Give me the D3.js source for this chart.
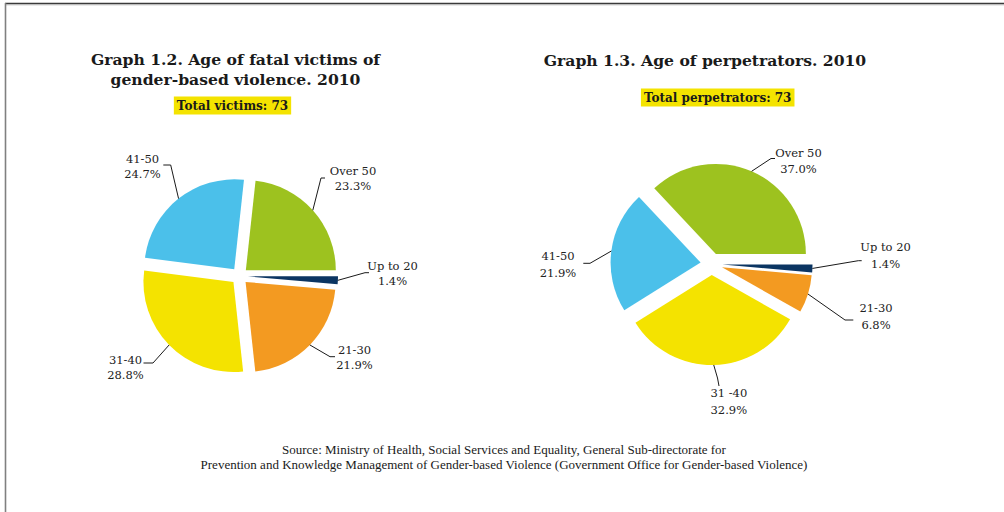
<!DOCTYPE html>
<html><head><meta charset="utf-8">
<script src="https://cdn.jsdelivr.net/npm/d3@7"></script>
<style>
html,body{margin:0;padding:0;background:#fff;}
svg{display:block;}
</style></head><body>
<svg id="chart" width="1004" height="512"></svg>
<script>
// Age groups, in clockwise drawing order
const ageGroups = ["Over 50", "Up to 20", "21-30", "31-40", "41-50"];
// Shares (%) per age group
const victimsShare = [23.3, 1.4, 21.9, 28.8, 24.7];
const perpetratorsShare = [37.0, 1.4, 6.8, 32.9, 21.9];
// Category names as printed beside each pie
const victimsNames = ["Over 50", "Up to 20", "21-30", "31-40", "41-50"];
const perpetratorsNames = ["Over 50", "Up to 20", "21-30", "31 -40", "41-50"];
// Headings
const victimsTitle = ["Graph 1.2. Age of fatal victims of", "gender-based violence. 2010"];
const perpetratorsTitle = ["Graph 1.3. Age of perpetrators. 2010"];
const victimsTotal = "Total victims: 73";
const perpetratorsTotal = "Total perpetrators: 73";
const sourceLines = [
  "Source: Ministry of Health, Social Services and Equality, General Sub-directorate for",
  "Prevention and Knowledge Management of Gender-based Violence (Government Office for Gender-based Violence)"
];

const color = d3.scaleOrdinal()
  .domain(ageGroups)
  .range(["#9dc21f", "#0b3562", "#f39a21", "#f4e300", "#4bc0ea"]);

const svg = d3.select("#chart");

// frame
svg.append("line").attr("x1", 5).attr("x2", 1004).attr("y1", 3.5).attr("y2", 3.5)
  .attr("stroke", "#3a3a3a").attr("stroke-width", 1.5);
svg.append("line").attr("x1", 5).attr("x2", 1004).attr("y1", 4.8).attr("y2", 4.8)
  .attr("stroke", "#b5b5b5").attr("stroke-width", 1);
svg.append("line").attr("x1", 5.5).attr("x2", 5.5).attr("y1", 3).attr("y2", 512)
  .attr("stroke", "#808080").attr("stroke-width", 1.6);

const serif = "'DejaVu Serif', serif";

// Leader layout (offsets from pie centre): elbow point, end point, label block centre
const victimsLayout = [
  {elbow: [81.5, -98], end: [85.5, -98], label: [113.5, -98]},
  {elbow: [125.5, -3.3], end: [129.5, -3.3], label: [153, -3]},
  {elbow: [90.5, 80.7], end: [95.5, 80.7], label: [115, 81]},
  {elbow: [-86.5, 87], end: [-96, 87], label: [-114, 91]},
  {elbow: [-68.8, -111], end: [-76.2, -111], label: [-97, -109.5]}
];
const perpetratorsLayout = [
  {elbow: [59.5, -105.5], end: [63.5, -105.5], label: [87, -103]},
  {elbow: [146.8, -3.3], end: [150.2, -3.3], label: [174, -8.5]},
  {elbow: [133.5, 56], end: [141.8, 56], label: [164.5, 52.3]},
  {elbow: [6, 114], end: [7.5, 122], label: [17.3, 137.3]},
  {elbow: [-121.5, -0.7], end: [-128.2, -0.7], label: [-153.5, 0.7]}
];

function drawPanel(cfg) {
  const g = svg.append("g");

  // heading
  cfg.title.forEach((t, i) => {
    g.append("text")
      .attr("x", cfg.titleX).attr("y", cfg.titleY + i * 20)
      .attr("text-anchor", "middle").attr("dominant-baseline", "central")
      .attr("font-family", serif).attr("font-weight", "bold").attr("font-size", 15.6)
      .attr("fill", "#1a1a1a").text(t);
  });

  // highlighted total
  const tot = g.append("text")
    .attr("x", cfg.totalX).attr("y", cfg.totalY)
    .attr("text-anchor", "middle").attr("dominant-baseline", "central")
    .attr("font-family", serif).attr("font-weight", "bold").attr("font-size", 12)
    .attr("fill", "#1a1a1a").text(cfg.total);
  const bb = tot.node().getBBox();
  g.insert("rect", "text")
    .attr("x", bb.x - 3).attr("y", cfg.totalY - 9)
    .attr("width", bb.width + 6).attr("height", 18)
    .attr("fill", "#f4e300");

  const sum = d3.sum(cfg.values);
  const a0 = Math.PI / 2 - cfg.values[0] / sum * 2 * Math.PI;
  const pie = d3.pie().sort(null).startAngle(a0).endAngle(a0 + 2 * Math.PI);
  const arcs = pie(cfg.values)
    .map((d, i) => Object.assign(d, {key: ageGroups[i], name: cfg.names[i], layout: cfg.layout[i]}));

  const arc = d3.arc().innerRadius(0).outerRadius(cfg.r);
  const rim = d3.arc().innerRadius(cfg.r).outerRadius(cfg.r);
  const shift = d => {
    const m = (d.startAngle + d.endAngle) / 2;
    return [Math.sin(m) * cfg.explode, -Math.cos(m) * cfg.explode];
  };

  const pg = g.append("g").attr("transform", `translate(${cfg.cx},${cfg.cy})`);

  pg.selectAll("path.slice").data(arcs).join("path")
    .attr("class", "slice")
    .attr("transform", d => `translate(${shift(d)})`)
    .attr("d", arc)
    .attr("fill", d => color(d.key));

  const line = d3.line();
  pg.selectAll("path.leader").data(arcs).join("path")
    .attr("class", "leader")
    .attr("d", d => {
      const s = shift(d);
      const c = rim.centroid(d);
      return line([[c[0] + s[0], c[1] + s[1]], d.layout.elbow, d.layout.end]);
    })
    .attr("fill", "none").attr("stroke", "#1a1a1a").attr("stroke-width", 1);

  const lbl = pg.selectAll("text.lbl").data(arcs).join("text")
    .attr("class", "lbl")
    .attr("text-anchor", "middle")
    .attr("font-family", serif).attr("font-size", 11.5).attr("fill", "#222");
  lbl.append("tspan")
    .attr("x", d => d.layout.label[0])
    .attr("y", d => d.layout.label[1] - cfg.lineGap / 2)
    .attr("dominant-baseline", "central")
    .text(d => d.name);
  lbl.append("tspan")
    .attr("x", d => d.layout.label[0])
    .attr("y", d => d.layout.label[1] + cfg.lineGap / 2)
    .attr("dominant-baseline", "central")
    .text(d => d3.format(".1f")(d.value) + "%");
}

drawPanel({
  title: victimsTitle, titleX: 235.5, titleY: 59,
  total: victimsTotal, totalX: 232.5, totalY: 105.5,
  values: victimsShare, names: victimsNames, layout: victimsLayout,
  cx: 239.5, cy: 276, r: 90, explode: 8.5, lineGap: 15
});

drawPanel({
  title: perpetratorsTitle, titleX: 705, titleY: 60,
  total: perpetratorsTotal, totalX: 717.7, totalY: 97.5,
  values: perpetratorsShare, names: perpetratorsNames, layout: perpetratorsLayout,
  cx: 711.5, cy: 264, r: 90, explode: 11, lineGap: 16.5
});

// source note
sourceLines.forEach((t, i) => {
  svg.append("text")
    .attr("x", 504).attr("y", 449 + i * 15)
    .attr("text-anchor", "middle").attr("dominant-baseline", "central")
    .attr("font-family", "'Liberation Serif', serif").attr("font-size", 13)
    .attr("fill", "#1a1a1a").text(t);
});
</script>
</body></html>
